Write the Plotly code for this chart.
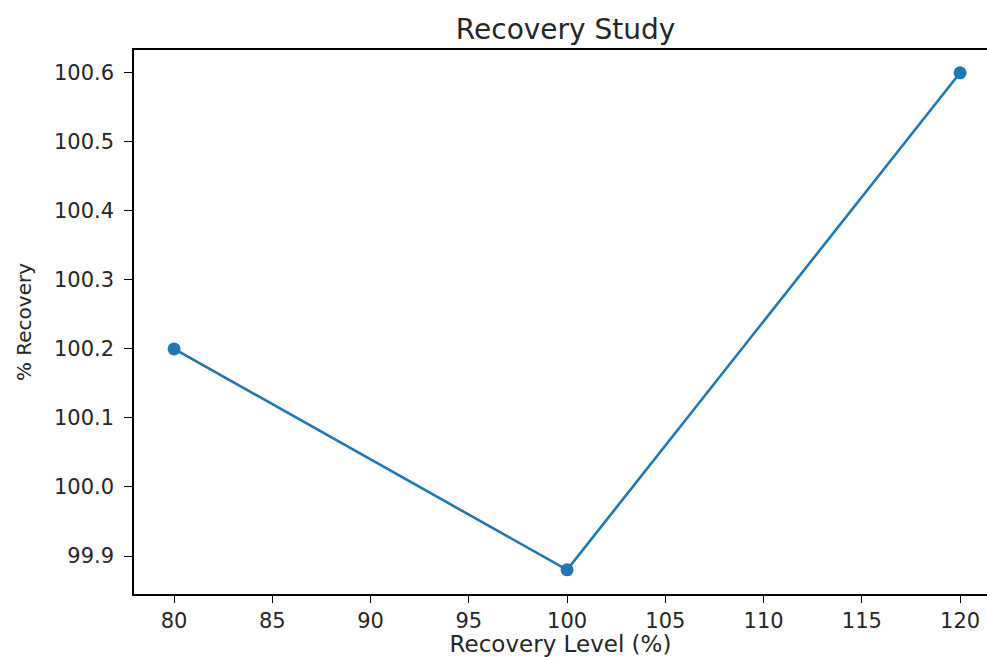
import plotly.graph_objects as go

recovery_level = [80, 100, 120]
percent_recovery = [100.2, 99.88, 100.6]
x_ticks = [80, 85, 90, 95, 100, 105, 110, 115, 120]
y_ticks = [99.9, 100.0, 100.1, 100.2, 100.3, 100.4, 100.5, 100.6]
y_tick_labels = ["99.9", "100.0", "100.1", "100.2", "100.3", "100.4", "100.5", "100.6"]

color = "#1f77b4"
font = "DejaVu Sans"

fig = go.Figure(go.Scatter(
    x=recovery_level, y=percent_recovery, mode="lines+markers",
    line=dict(color=color, width=2.6),
    marker=dict(color=color, size=13),
))

fig.update_layout(
    width=987, height=657,
    margin=dict(l=134, r=0, t=50, b=63),
    paper_bgcolor="white", plot_bgcolor="white",
    font=dict(family=font, color="#262626", size=21),
    showlegend=False,
    title=dict(text="Recovery Study", x=0.506, xref="paper", xanchor="center",
               y=1 - 29 / 657, yref="container", yanchor="middle",
               font=dict(size=28, family=font, color="#262626")),
)
fig.update_xaxes(
    range=[77.96, 121.37], tickvals=x_ticks, ticks="outside", ticklen=7, tickwidth=1.3,
    tickcolor="black", showline=True, linecolor="black", linewidth=1.5, mirror=True,
    showgrid=False, zeroline=False, tickfont=dict(size=21),
    title=dict(text="Recovery Level (%)", standoff=2, font=dict(size=23)),
)
fig.update_yaxes(
    range=[99.845, 100.633], tickvals=y_ticks, ticktext=y_tick_labels, ticks="outside",
    ticklen=8, tickwidth=1.3, tickcolor="black", showline=True, linecolor="black",
    linewidth=1.5, showgrid=False, zeroline=False, ticklabelstandoff=6,
    tickfont=dict(size=21),
    title=dict(text="% Recovery", standoff=17, font=dict(size=20)),
)

fig.write_html("out.html", config={"displayModeBar": False})
with open("out.html", "r", encoding="utf-8") as f:
    html = f.read()
html = html.replace("<head>", "<head><style>html,body{margin:0;padding:0;overflow:hidden;}</style>", 1)
with open("out.html", "w", encoding="utf-8") as f:
    f.write(html)
